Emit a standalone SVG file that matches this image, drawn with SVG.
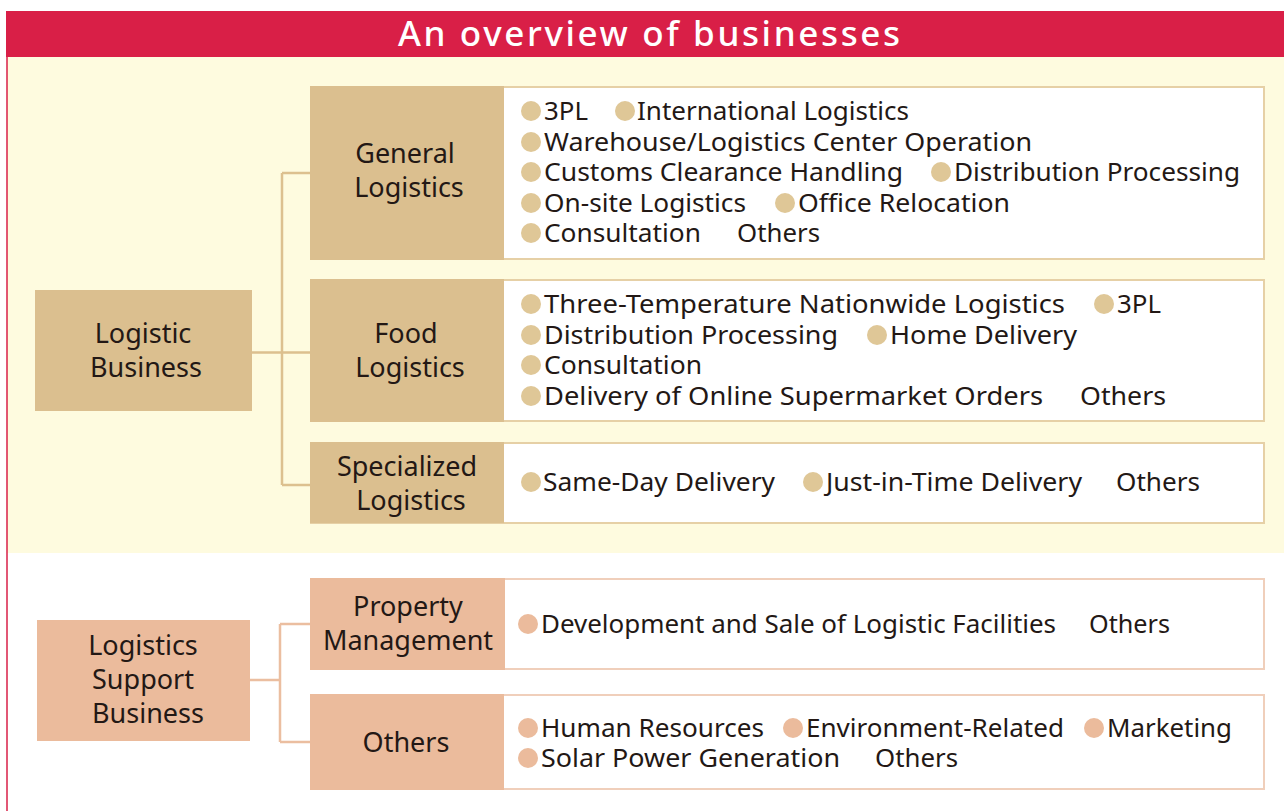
<svg xmlns="http://www.w3.org/2000/svg" width="1284" height="811" viewBox="0 0 1284 811">
<style>
.t{font-family:"Noto Sans","Open Sans","DejaVu Sans",sans-serif;font-size:25px;fill:#231815}
.l{font-family:"Noto Sans","Open Sans","DejaVu Sans",sans-serif;font-size:27px;fill:#231815;text-anchor:middle}
.tan{fill:#dbbf8f}
.pink{fill:#ebbb9c}
.cb{fill:#ffffff;stroke:#e6d0a6;stroke-width:2}
.cp{fill:#ffffff;stroke:#f0cfbb;stroke-width:2}
.bt{fill:#dfc797}
.bp{fill:#ebbb9c}
.ct{fill:none;stroke:#dcc08f;stroke-width:2.5}
.cpk{fill:none;stroke:#ebbea0;stroke-width:2.5}
</style>
<rect x="0" y="0" width="1284" height="811" fill="#ffffff"/>
<rect x="6" y="11" width="1278" height="46" fill="#d91f47"/>
<text x="649" y="46" font-family="Noto Sans,Open Sans,sans-serif" font-size="35" font-weight="500" fill="#ffffff" text-anchor="middle" textLength="502" lengthAdjust="spacing">An overview of businesses</text>
<rect x="7" y="57" width="1277" height="496" fill="#fefbdf"/>
<line x1="7" y1="57" x2="7" y2="811" stroke="#d91f47" stroke-width="1.5"/>

<g id="connectors">
<path class="ct" d="M252 352.5 H282 M282 173 V485 M282 173 H310 M282 352.5 H310 M282 485 H310"/>
<path class="cpk" d="M250 680 H280 M280 624 V742 M280 624 H310 M280 742 H310"/>
</g>

<g id="logistic-business">
<rect class="tan" x="35" y="290" width="217" height="121"/>
<text class="l" x="143" y="343">Logistic</text>
<text class="l" x="146" y="377">Business</text>
</g>

<g id="general-logistics">
<rect class="cb" x="311" y="87" width="953" height="172"/>
<rect class="tan" x="310" y="86" width="194" height="174"/>
<text class="l" x="405" y="163">General</text>
<text class="l" x="409" y="197">Logistics</text>
<circle class="bt" cx="531" cy="111" r="10"/><text class="t" x="544" y="120" textLength="44" lengthAdjust="spacingAndGlyphs">3PL</text>
<circle class="bt" cx="625" cy="111" r="10"/><text class="t" x="637" y="120" textLength="272" lengthAdjust="spacingAndGlyphs">International Logistics</text>
<circle class="bt" cx="531" cy="142" r="10"/><text class="t" x="544" y="151" textLength="488" lengthAdjust="spacingAndGlyphs">Warehouse/Logistics Center Operation</text>
<circle class="bt" cx="531" cy="172" r="10"/><text class="t" x="544" y="181" textLength="359" lengthAdjust="spacingAndGlyphs">Customs Clearance Handling</text>
<circle class="bt" cx="941" cy="172" r="10"/><text class="t" x="954" y="181" textLength="286" lengthAdjust="spacingAndGlyphs">Distribution Processing</text>
<circle class="bt" cx="531" cy="203" r="10"/><text class="t" x="544" y="212" textLength="202" lengthAdjust="spacingAndGlyphs">On-site Logistics</text>
<circle class="bt" cx="785" cy="203" r="10"/><text class="t" x="798" y="212" textLength="212" lengthAdjust="spacingAndGlyphs">Office Relocation</text>
<circle class="bt" cx="531" cy="233" r="10"/><text class="t" x="544" y="242" textLength="157" lengthAdjust="spacingAndGlyphs">Consultation</text>
<text class="t" x="737" y="242" textLength="83" lengthAdjust="spacingAndGlyphs">Others</text>
</g>

<g id="food-logistics">
<rect class="cb" x="311" y="280" width="953" height="141"/>
<rect class="tan" x="310" y="279" width="194" height="143"/>
<text class="l" x="406" y="343">Food</text>
<text class="l" x="410" y="377">Logistics</text>
<circle class="bt" cx="531" cy="304" r="10"/><text class="t" x="544" y="313" textLength="521" lengthAdjust="spacingAndGlyphs">Three-Temperature Nationwide Logistics</text>
<circle class="bt" cx="1104" cy="304" r="10"/><text class="t" x="1117" y="313" textLength="44" lengthAdjust="spacingAndGlyphs">3PL</text>
<circle class="bt" cx="531" cy="335" r="10"/><text class="t" x="544" y="344" textLength="294" lengthAdjust="spacingAndGlyphs">Distribution Processing</text>
<circle class="bt" cx="877" cy="335" r="10"/><text class="t" x="890" y="344" textLength="187" lengthAdjust="spacingAndGlyphs">Home Delivery</text>
<circle class="bt" cx="531" cy="365" r="10"/><text class="t" x="544" y="374" textLength="158" lengthAdjust="spacingAndGlyphs">Consultation</text>
<circle class="bt" cx="531" cy="396" r="10"/><text class="t" x="544" y="405" textLength="499" lengthAdjust="spacingAndGlyphs">Delivery of Online Supermarket Orders</text>
<text class="t" x="1080" y="405" textLength="86" lengthAdjust="spacingAndGlyphs">Others</text>
</g>

<g id="specialized-logistics">
<rect class="cb" x="311" y="443" width="953" height="80"/>
<rect class="tan" x="310" y="442" width="194" height="81"/>
<text class="l" x="407" y="476">Specialized</text>
<text class="l" x="411" y="510">Logistics</text>
<circle class="bt" cx="531" cy="482" r="10"/><text class="t" x="543" y="491" textLength="232" lengthAdjust="spacingAndGlyphs">Same-Day Delivery</text>
<circle class="bt" cx="813" cy="482" r="10"/><text class="t" x="826" y="491" textLength="256" lengthAdjust="spacingAndGlyphs">Just-in-Time Delivery</text>
<text class="t" x="1116" y="491" textLength="84" lengthAdjust="spacingAndGlyphs">Others</text>
</g>

<g id="logistics-support-business">
<rect class="pink" x="37" y="620" width="213" height="121"/>
<text class="l" x="143" y="655">Logistics</text>
<text class="l" x="143" y="689">Support</text>
<text class="l" x="148" y="723">Business</text>
</g>

<g id="property-management">
<rect class="cp" x="311" y="579" width="953" height="90"/>
<rect class="pink" x="310" y="578" width="195" height="92"/>
<text class="l" x="408" y="616">Property</text>
<text class="l" x="408" y="650">Management</text>
<circle class="bp" cx="528" cy="624" r="10"/><text class="t" x="541" y="633" textLength="515" lengthAdjust="spacingAndGlyphs">Development and Sale of Logistic Facilities</text>
<text class="t" x="1089" y="633" textLength="81" lengthAdjust="spacingAndGlyphs">Others</text>
</g>

<g id="others">
<rect class="cp" x="311" y="695" width="953" height="94"/>
<rect class="pink" x="310" y="694" width="194" height="96"/>
<text class="l" x="406" y="752">Others</text>
<circle class="bp" cx="528" cy="728" r="10"/><text class="t" x="541" y="737" textLength="223" lengthAdjust="spacingAndGlyphs">Human Resources</text>
<circle class="bp" cx="793" cy="728" r="10"/><text class="t" x="806" y="737" textLength="258" lengthAdjust="spacingAndGlyphs">Environment-Related</text>
<circle class="bp" cx="1094" cy="728" r="10"/><text class="t" x="1107" y="737" textLength="125" lengthAdjust="spacingAndGlyphs">Marketing</text>
<circle class="bp" cx="528" cy="758" r="10"/><text class="t" x="541" y="767" textLength="299" lengthAdjust="spacingAndGlyphs">Solar Power Generation</text>
<text class="t" x="875" y="767" textLength="83" lengthAdjust="spacingAndGlyphs">Others</text>
</g>
</svg>
